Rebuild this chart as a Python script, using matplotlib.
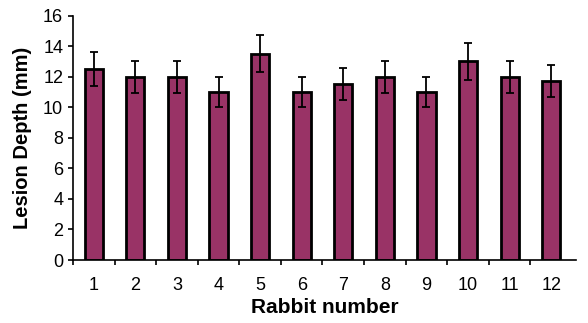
import matplotlib.pyplot as plt
from matplotlib.ticker import FixedLocator

plt.rcParams['font.family'] = ['Liberation Sans', 'DejaVu Sans']

# Lesion depth per rabbit (mean and standard deviation, mm)
rabbits = ['1', '2', '3', '4', '5', '6', '7', '8', '9', '10', '11', '12']
depth_mean = [12.5, 12.0, 12.0, 11.0, 13.5, 11.0, 11.5, 12.0, 11.0, 13.0, 12.0, 11.7]
depth_sd = [1.1, 1.05, 1.05, 1.0, 1.2, 1.0, 1.05, 1.05, 1.0, 1.2, 1.05, 1.05]

fig = plt.figure(figsize=(5.88, 3.23), dpi=100)
ax = fig.add_axes([0.124, 0.195, 0.856, 0.757])

pos = list(range(1, len(rabbits) + 1))
ax.bar(pos, depth_mean, width=0.44, color='#993366', edgecolor='black',
       linewidth=2.0, zorder=2)
ax.errorbar(pos, depth_mean, yerr=depth_sd, fmt='none', ecolor='black',
            elinewidth=1.3, capsize=2.8, capthick=1.3, zorder=3)

ax.set_xlim(0.5, 12.6)
ax.set_ylim(0, 16)
ax.set_yticks(range(0, 17, 2))
ax.set_xticks(pos)
ax.set_xticklabels(rabbits)
# tick marks sit between the categories
ax.xaxis.set_minor_locator(FixedLocator([p - 0.5 for p in pos]))
ax.tick_params(axis='x', which='major', length=0, pad=12, labelsize=13)
ax.tick_params(axis='x', which='minor', length=3.6, width=1.2, direction='out')
ax.tick_params(axis='y', length=3.6, width=1.2, labelsize=13, pad=3.4)

for side in ('top', 'right'):
    ax.spines[side].set_visible(False)
ax.spines['left'].set_linewidth(1.2)
ax.spines['bottom'].set_linewidth(1.2)

ax.set_xlabel('Rabbit number', fontsize=15, fontweight='bold', labelpad=3)
ax.set_ylabel('Lesion Depth (mm)', fontsize=14.5, fontweight='bold', labelpad=8)

fig.savefig('out.png', dpi=100)
